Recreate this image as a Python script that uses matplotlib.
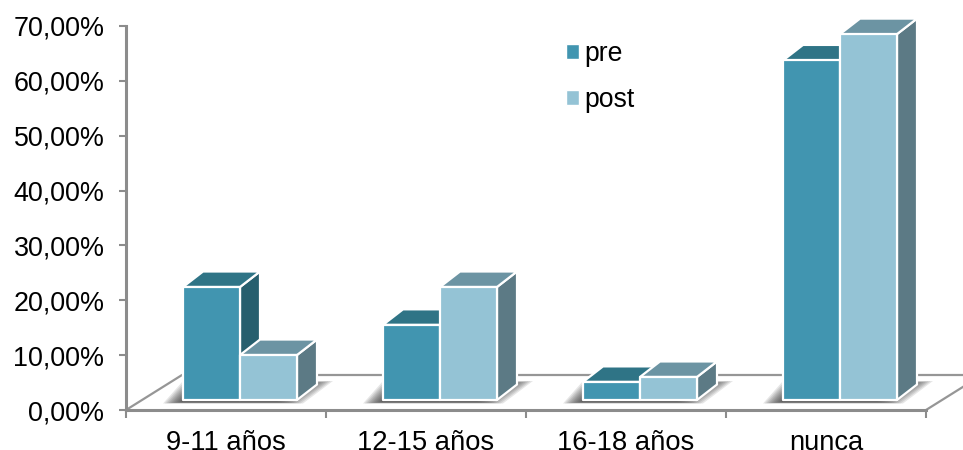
import matplotlib
matplotlib.use("Agg")
import matplotlib.pyplot as plt
from matplotlib.patches import Polygon, Patch

plt.rcParams['font.family'] = ['Liberation Sans', 'DejaVu Sans']

categories = ["9-11 años", "12-15 años", "16-18 años", "nunca"]
pre = [20.6, 13.7, 3.3, 61.9]
post = [8.2, 20.6, 4.2, 66.7]
y_ticks = [0, 10, 20, 30, 40, 50, 60, 70]

PRE = dict(front="#4195B0", top="#2F7486", side="#275F6E")
POST = dict(front="#94C3D5", top="#6C94A3", side="#5C7A85")
AXIS = "#8C8C8C"

W, H = 963, 450
fig = plt.figure(figsize=(W / 100, H / 100), dpi=100)
ax = fig.add_axes([126 / W, 1 - 410 / H, 800 / W, 384 / H])
ax.set_xlim(0, 4)
ax.set_ylim(0, 70)

UX = 4 / 800    # data units per pixel, horizontally
UY = 70 / 384   # data units per pixel, vertically


def poly(points, **kw):
    kw.setdefault("clip_on", False)
    ax.add_patch(Polygon(points, closed=True, **kw))


# Floor of the 3-D box
FX, FY = 56 * UX, 35 * UY
ax.plot([0, FX, 4.3], [0, FY, FY], color="#969696", lw=1.6, clip_on=False, zorder=1,
        solid_joinstyle="miter")
ax.plot([4, 4 + 40 * UX], [0, 25 * UY], color="#969696", lw=1.6, clip_on=False, zorder=1)

# Bar placement on the floor
BAR_W = 57 * UX
BAR_LEFT = 0.285
BASE_DY = 10 * UY
DX, DY = 20 * UX, 15.5 * UY


def shadow(x0, x1):
    # Soft shadow on the floor, built from stacked translucent shapes
    steps = 12
    for k in range(steps):
        f = k / (steps - 1)
        left = 20 - 20 * f
        right = 36 - 26 * f
        bottom = 3.5 - 1.5 * f
        top = 19 - 3 * f
        poly([(x0 - left * UX, BASE_DY - bottom * UY),
              (x1 + (right - 30) * UX, BASE_DY - bottom * UY),
              (x1 + right * UX, BASE_DY + top * UY),
              (x0 + (20 - left) * UX, BASE_DY + top * UY)],
             facecolor="#333333", edgecolor="none", alpha=0.12, zorder=2)


def bar(x, value, c):
    b = BASE_DY
    t = b + value
    w = x + BAR_W
    edge = dict(edgecolor="white", linewidth=1.6, joinstyle="round", zorder=3)
    poly([(w, b), (w + DX, b + DY), (w + DX, t + DY), (w, t)], facecolor=c["side"], **edge)
    poly([(x, t), (w, t), (w + DX, t + DY), (x + DX, t + DY)], facecolor=c["top"], **edge)
    poly([(x, b), (w, b), (w, t), (x, t)], facecolor=c["front"], **edge)


for i in range(len(categories)):
    x = i + BAR_LEFT
    shadow(x, x + 2 * BAR_W)
    bar(x, pre[i], PRE)
    bar(x + BAR_W, post[i], POST)

# Axes
for side in ("top", "right"):
    ax.spines[side].set_visible(False)
for side in ("left", "bottom"):
    ax.spines[side].set_color(AXIS)
    ax.spines[side].set_linewidth(2.2)
    ax.spines[side].set_zorder(1.5)

ax.set_yticks(y_ticks)
ax.set_yticklabels([f"{v},00%" for v in y_ticks])
ax.set_xticks(range(5))
ax.set_xticklabels([])
ax.set_xticks([i + 0.5 for i in range(4)], minor=True)
ax.set_xticklabels(categories, minor=True)
ax.tick_params(axis="y", length=5, width=1.5, color=AXIS, labelsize=19.4,
               labelcolor="black", pad=10.5)
ax.tick_params(axis="x", which="major", length=6, width=1.5, color=AXIS)
ax.tick_params(axis="x", which="minor", length=0, labelsize=19.7,
               labelcolor="black", pad=14.5)

# Legend
handles = [Patch(facecolor=PRE["front"], edgecolor="white", label="pre"),
           Patch(facecolor=POST["front"], edgecolor="white", label="post")]
leg = ax.legend(handles=handles, frameon=False, fontsize=19.2,
                bbox_to_anchor=((566 - 126) / 800, (410 - 41) / 384), loc="upper left",
                borderaxespad=0, borderpad=0, handlelength=0.5, handleheight=0.5,
                handletextpad=0.2, labelspacing=0.76)

fig.savefig("out.png", dpi=100)
